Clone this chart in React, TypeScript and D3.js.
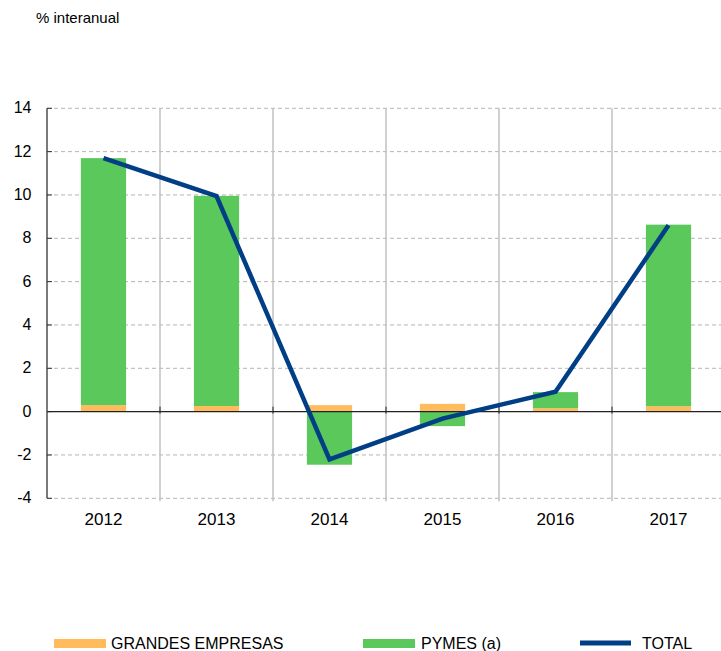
import React from "react";
import * as d3 from "d3";

const categories = ["2012", "2013", "2014", "2015", "2016", "2017"];
const grandes = [0.3, 0.26, 0.3, 0.36, 0.16, 0.25];
const pymes = [11.4, 9.7, -2.45, -0.67, 0.74, 8.38];
const total = [11.7, 9.95, -2.2, -0.32, 0.92, 8.6];
const yTicks = [-4, -2, 0, 2, 4, 6, 8, 10, 12, 14];

const W = 721, H = 651;
const left = 47, right = 725, top = 108.3, bottom = 498.3;
const font = "Liberation Sans, Arial, sans-serif";

export default function App() {
  const x = d3.scaleBand().domain(categories).range([left, right]).paddingInner(0).paddingOuter(0);
  const y = d3.scaleLinear().domain([-4, 14]).range([bottom, top]);
  const bw = x.bandwidth() * 0.4;
  const cx = (c: string) => (x(c) as number) + x.bandwidth() / 2;
  const line = d3.line<number>().x((_, i) => cx(categories[i])).y((d) => y(d));

  const segs: { c: string; y0: number; y1: number; color: string }[] = [];
  categories.forEach((c, i) => {
    let pos = 0, neg = 0;
    [[grandes[i], "#FFBB5C"], [pymes[i], "#5AC85A"]].forEach(([v, col]) => {
      const val = v as number;
      if (val >= 0) { segs.push({ c, y0: pos, y1: pos + val, color: col as string }); pos += val; }
      else { segs.push({ c, y0: neg, y1: neg + val, color: col as string }); neg += val; }
    });
  });

  return (
    <svg width={W} height={H} style={{ position: "absolute", left: 0, top: 0, background: "#fff" }}>
      <text x={36} y={23} fontFamily={font} fontSize={15} fill="#000">% interanual</text>
      {yTicks.map((t) => (
        <g key={t}>
          {t !== 0 && (
            <line x1={left} x2={W} y1={y(t)} y2={y(t)} stroke="#b4b4b4" strokeWidth={1} strokeDasharray="4,3" />
          )}
          <line x1={left} x2={left + 5} y1={y(t)} y2={y(t)} stroke="#333" strokeWidth={1} />
          <text x={31.5} y={y(t) + 5} textAnchor="end" fontFamily={font} fontSize={16} fill="#000">{t}</text>
        </g>
      ))}
      {categories.slice(1).map((c) => (
        <line key={c} x1={x(c)} x2={x(c)} y1={top} y2={bottom + 3} stroke="#c0c0c0" strokeWidth={1.5} />
      ))}
      {segs.map((s, i) => (
        <rect key={i} x={cx(s.c) - bw / 2} width={bw}
          y={Math.min(y(s.y0), y(s.y1))} height={Math.abs(y(s.y0) - y(s.y1))}
          fill={s.color} />
      ))}
      <line x1={left} x2={W} y1={y(0)} y2={y(0)} stroke="#222" strokeWidth={1.3} />
      {categories.slice(1).map((c) => (
        <line key={"t" + c} x1={x(c)} x2={x(c)} y1={y(0) - 5} y2={y(0) + 2} stroke="#222" strokeWidth={1} />
      ))}
      <line x1={left} x2={left} y1={top} y2={bottom} stroke="#333" strokeWidth={1.3} />
      <path d={line(total) || ""} fill="none" stroke="#003F85" strokeWidth={4.5} strokeLinejoin="miter" />
      {categories.map((c) => (
        <text key={c} x={cx(c)} y={525} textAnchor="middle" fontFamily={font} fontSize={17} fill="#000">{c}</text>
      ))}
      <rect x={54} y={639} width={52} height={9} fill="#FFBB5C" />
      <text x={111} y={648.5} fontFamily={font} fontSize={16} fill="#000">GRANDES EMPRESAS</text>
      <rect x={363} y={639} width={52} height={9} fill="#5AC85A" />
      <text x={421} y={648.5} fontFamily={font} fontSize={16} fill="#000">PYMES (a)</text>
      <line x1={580} x2={631} y1={643} y2={643} stroke="#003F85" strokeWidth={5} />
      <text x={642} y={648.5} fontFamily={font} fontSize={16} fill="#000">TOTAL</text>
    </svg>
  );
}
